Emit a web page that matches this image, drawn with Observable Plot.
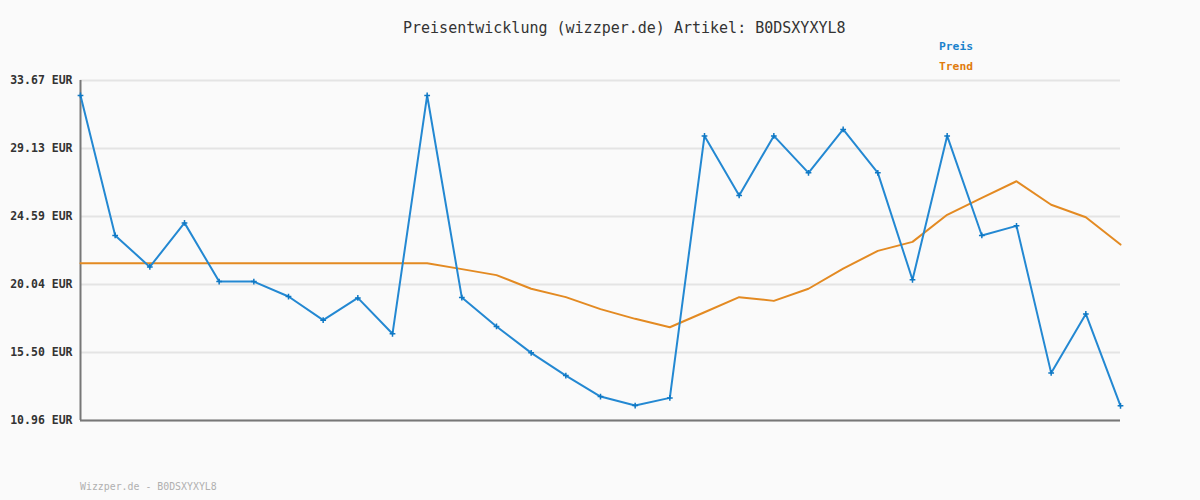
<!DOCTYPE html>
<html>
<head>
<meta charset="utf-8">
<script src="https://cdn.jsdelivr.net/npm/d3@7"></script>
<script src="https://cdn.jsdelivr.net/npm/@observablehq/plot@0.6"></script>
<style>
  html, body { margin: 0; padding: 0; background: #fafafa; }
  #wrap { position: relative; width: 1200px; height: 500px; background: #fafafa; font-family: "DejaVu Sans Mono", monospace; }
  .abs { position: absolute; white-space: nowrap; line-height: 1; }
  #title { left: 403px; top: 21px; font-size: 15px; color: #333; }
  #lp { left: 939px; top: 41px; font-size: 11.3px; font-weight: bold; color: #1a82cc; }
  #lt { left: 939px; top: 61px; font-size: 11.3px; font-weight: bold; color: #e07b0c; }
  #foot { left: 80px; top: 482px; font-size: 9.9px; color: #b0b0b0; }
  svg { position: absolute; left: 0; top: 0; }
</style>
</head>
<body>
<div id="wrap">
  <div id="chart"></div>
  <div class="abs" id="title">Preisentwicklung (wizzper.de) Artikel: B0DSXYXYL8</div>
  <div class="abs" id="lp">Preis</div>
  <div class="abs" id="lt">Trend</div>
  <div class="abs" id="foot">Wizzper.de - B0DSXYXYL8</div>
</div>
<script>
const idx = d3.range(31);
const preis = [32.67, 23.32, 21.22, 24.16, 20.24, 20.24, 19.24, 17.66, 19.15, 16.75,
               32.67, 19.17, 17.24, 15.48, 13.96, 12.56, 11.96, 12.47, 29.97, 25.99,
               29.97, 27.50, 30.40, 27.50, 20.36, 29.97, 23.32, 23.96, 14.14, 18.08, 11.94];
const trend = [21.47, 21.47, 21.47, 21.47, 21.47, 21.47, 21.47, 21.47, 21.47, 21.47,
               21.47, 21.07, 20.67, 19.76, 19.20, 18.40, 17.75, 17.19, 18.19, 19.20,
               18.95, 19.76, 21.11, 22.29, 22.89, 24.70, 25.83, 26.94, 25.37, 24.54, 22.71];
const yTicks = [10.96, 15.50, 20.04, 24.59, 29.13, 33.67];

const preisData = idx.map(i => ({x: i, y: preis[i]}));
const trendData = idx.map(i => ({x: i, y: trend[i]}));

const chart = Plot.plot({
  width: 1200,
  height: 500,
  marginLeft: 80,
  marginRight: 80,
  marginTop: 80,
  marginBottom: 80,
  style: { background: "#fafafa", fontFamily: "DejaVu Sans Mono, monospace" },
  x: { domain: [0, 30], axis: null },
  y: { domain: [10.96, 33.67], axis: null },
  marks: [
    Plot.gridY(yTicks, { stroke: "#e4e4e4", strokeOpacity: 1, strokeWidth: 2 }),
    Plot.axisY(yTicks, {
      label: null, tickSize: 0, tickPadding: 8, fontSize: 11.5, fontWeight: "bold", fill: "#333",
      tickFormat: d => d.toFixed(2) + " EUR"
    }),
    Plot.ruleY([10.96], { stroke: "#777", strokeWidth: 2 }),
    Plot.ruleX([0], { stroke: "#777", strokeWidth: 2 }),
    Plot.line(trendData, { x: "x", y: "y", stroke: "#e38a22", strokeWidth: 2 }),
    Plot.line(preisData, { x: "x", y: "y", stroke: "#2388d2", strokeWidth: 2 }),
    Plot.dot(preisData, { x: "x", y: "y", symbol: "plus", r: 2, stroke: "#0f78c4", strokeWidth: 1.5 })
  ]
});
document.getElementById("chart").appendChild(chart);
</script>
</body>
</html>
